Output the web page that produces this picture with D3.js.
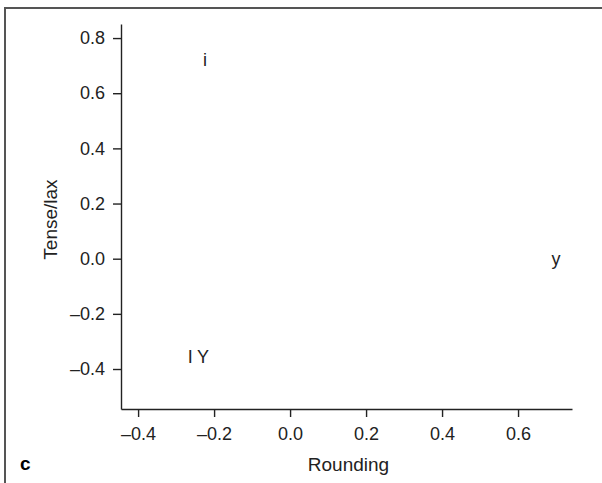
<!DOCTYPE html>
<html>
<head>
<meta charset="utf-8">
<script src="https://cdn.jsdelivr.net/npm/d3@7"></script>
<style>
body { margin: 0; background: #fff; }
text { font-family: "Liberation Sans", Arial, sans-serif; fill: #222; }
.axis path, .axis line { stroke: #222; stroke-width: 1.4; }
.axis text { font-size: 18px; fill: #222; }
</style>
</head>
<body>
<div id="chart"></div>
<script>
// vowel labels and their positions in the rounding / tense-lax space
var labels = ["i", "y", "I", "Y"];
var rounding = [-0.224, 0.70, -0.263, -0.229];
var tense = [0.72, 0.0, -0.356, -0.356];

var xTicks = [-0.4, -0.2, 0.0, 0.2, 0.4, 0.6];
var yTicks = [-0.4, -0.2, 0.0, 0.2, 0.4, 0.6, 0.8];

var pwidth = 602;
var pheight = 483;
var margin = {top: 24, right: 30, bottom: 74, left: 121}
    , width = pwidth - margin.left - margin.right
    , height = pheight - margin.top - margin.bottom;

var xScale = d3.scaleLinear()
    .domain([-0.445, 0.742])
    .range([0, width]);

var yScale = d3.scaleLinear()
    .domain([-0.545, 0.851])
    .range([height, 0]);

var fmt = function(d) { return d3.format(".1f")(d).replace("-", "\u2013").replace("\u2212", "\u2013"); };

var root = d3.select("#chart").append("svg")
    .attr("width", pwidth)
    .attr("height", pheight);

// frame: top and left rules only
root.append("path")
    .attr("d", "M5,483 V8 H602")
    .attr("fill", "none")
    .attr("stroke", "#555")
    .attr("stroke-width", 2);

var svg = root.append("g")
    .attr("transform", "translate(" + margin.left + "," + margin.top + ")");

svg.append("g")
    .attr("class", "x axis")
    .attr("transform", "translate(0," + height + ")")
    .call(d3.axisBottom(xScale).tickValues(xTicks).tickFormat(fmt).tickSize(8).tickSizeOuter(0).tickPadding(10));

svg.append("g")
    .attr("class", "y axis")
    .call(d3.axisLeft(yScale).tickValues(yTicks).tickFormat(fmt).tickSize(8).tickSizeOuter(0).tickPadding(8));

// vowel labels as the scatter marks
svg.selectAll(".vowel")
    .data(labels)
    .enter().append("text")
    .attr("class", "vowel")
    .attr("x", function(d, i) { return xScale(rounding[i]); })
    .attr("y", function(d, i) { return yScale(tense[i]); })
    .attr("text-anchor", "middle")
    .attr("dy", "0.35em")
    .style("font-size", "18px")
    .text(function(d) { return d; });

// axis titles
svg.append("text")
    .attr("x", width / 2 + 2)
    .attr("y", height + 62)
    .attr("text-anchor", "middle")
    .style("font-size", "19px")
    .text("Rounding");

svg.append("text")
    .attr("transform", "translate(-64," + (yScale(0.2) + 16) + ") rotate(-90)")
    .attr("text-anchor", "middle")
    .style("font-size", "19px")
    .text("Tense/lax");

// panel letter
root.append("text")
    .attr("x", 20)
    .attr("y", 470)
    .style("font-size", "19px")
    .style("font-weight", "bold")
    .style("fill", "#000")
    .text("c");
</script>
</body>
</html>
